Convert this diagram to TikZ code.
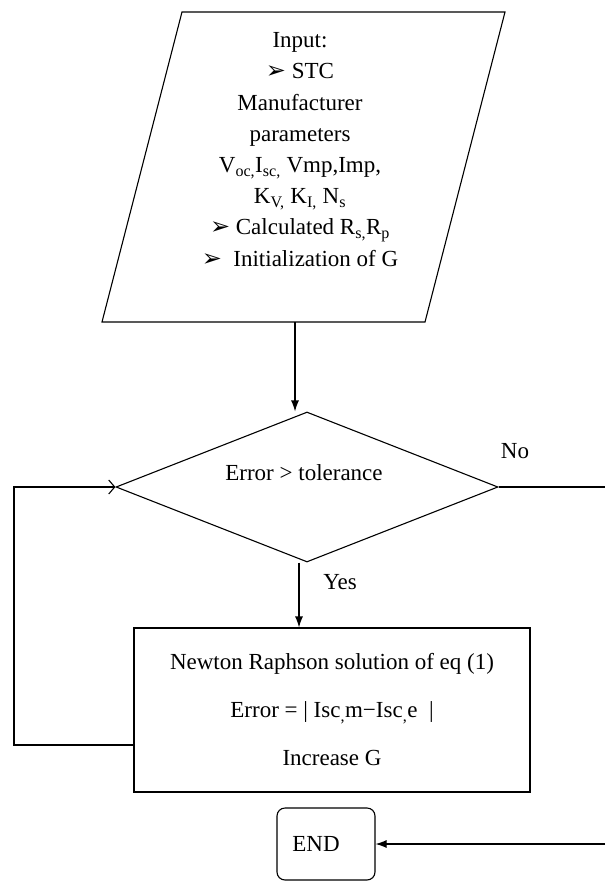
\documentclass[tikz,border=0pt]{standalone}
\usepackage{fontspec}
\setmainfont{Liberation Serif}
\newfontfamily\dvfont{DejaVu Sans}
\usetikzlibrary{shapes.geometric,arrows.meta}
\newcommand\myarr{{\dvfont\fontsize{24}{20}\selectfont ➢}}
\begin{document}
\begin{tikzpicture}[x=1pt,y=-1pt,line width=1.1pt,
  flow/.style={-{Latex[length=11pt,width=8pt]}},
  loopin/.style={-{Straight Barb[length=6pt,width=14pt]}},
  txt/.style={font=\fontsize{23}{31.2}\selectfont,inner sep=0pt}]
\useasboundingbox (0,0) rectangle (605,885);
% input parallelogram
\coordinate (p1) at (102,322);
\coordinate (p2) at (425,322);
\coordinate (p3) at (505,12);
\coordinate (p4) at (182,12);
\draw (p1) -- (p2) -- (p3) -- (p4) -- cycle;
\node[txt,align=center,anchor=north] (intext) at (300,32)
  {Input:\\
   \myarr\ STC\\
   Manufacturer\\
   parameters\\
   V\textsubscript{oc,}I\textsubscript{sc,} Vmp,Imp,\\
   K\textsubscript{V,} K\textsubscript{I,} N\textsubscript{s}\\
   \myarr\ Calculated R\textsubscript{s,}R\textsubscript{p}\\
   \myarr\ \ Initialization of G};
\coordinate (pb) at (295,322);
% decision
\node[draw,diamond,minimum width=382pt,minimum height=150pt,aspect=2.55,inner sep=0pt] (dia) at (307,487) {};
\node[txt] (dtext) at (304,473) {Error > tolerance};
\draw[flow] (pb) -- (pb |- dia.north);
% process box
\node[draw,minimum width=396pt,minimum height=164pt,inner sep=0pt,align=center,
  font=\fontsize{23}{48}\selectfont] (box) at (332,710)
  {Newton Raphson solution of eq (1)\\
   Error = | Isc\textsubscript{,}m−Isc\textsubscript{,}e \ |\\
   Increase G};
\draw[flow] ([xshift=-8pt]dia.south) -- ([xshift=-8pt]dia.south |- box.north);
\node[txt] (yes) at (340,582) {Yes};
% loop back
\coordinate (lx) at (14,600);
\draw[loopin] ([yshift=-35pt]box.west) -| (lx) |- (dia.west);
% no branch
\node[txt] (no) at (515,451) {No};
\coordinate (rx) at (605,650);
\node[draw,rounded corners=8pt,minimum width=98pt,minimum height=72pt,inner sep=0pt,
  font=\fontsize{23}{27}\selectfont] (endn) at (326,844) {END\hspace*{20pt}};
\draw (dia.east) -- (dia.east -| rx);
\draw[flow] (endn.east -| rx) -- (endn.east);
\end{tikzpicture}
\end{document}
